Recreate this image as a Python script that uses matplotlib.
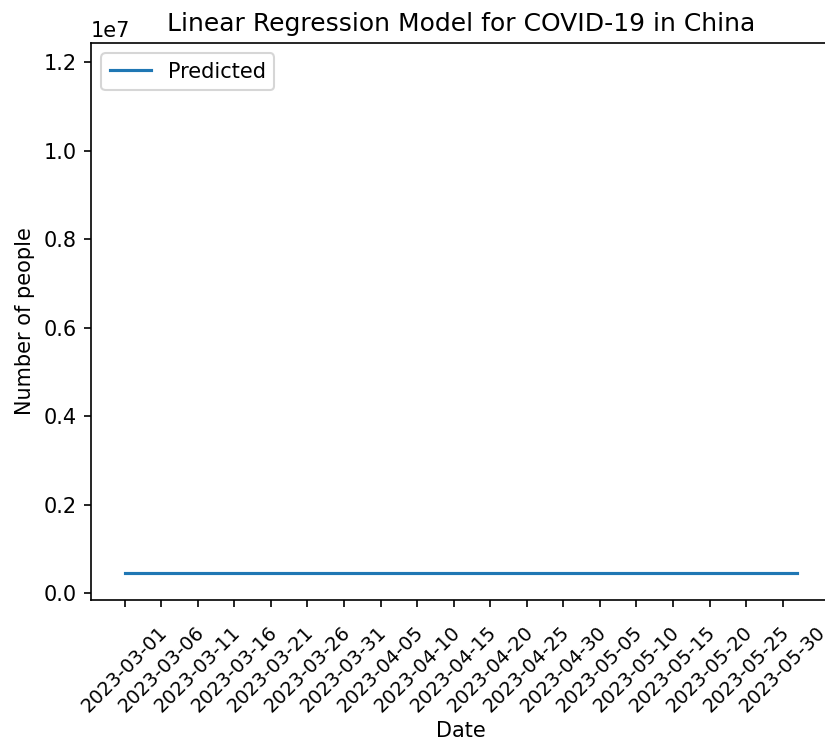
import pandas as pd
import matplotlib
matplotlib.use('Agg')
import matplotlib.pyplot as plt

# Datos
dates = pd.date_range('2023-03-01', '2023-06-01', freq='D')
predicted = [463000] * len(dates)
tick_dates = dates[::5]
tick_labels = [d.strftime('%Y-%m-%d') for d in tick_dates]

# Grafico
fig = plt.figure(figsize=(5.5, 740 / 150), dpi=150)
ax = fig.add_axes([91 / 825, 140 / 740, 740 / 825, 557 / 740])
ax.plot(dates, predicted, label='Predicted')
ax.set_ylim(-0.147e6, 12.43e6)
ax.set_xticks(tick_dates)
ax.set_xticklabels(tick_labels, rotation=45, fontsize=9.3)
ax.tick_params(axis='x', pad=7.5)
ax.set_xlabel('Date', labelpad=2.4)
ax.set_ylabel('Number of people')
ax.set_title('Linear Regression Model for COVID-19 in China')
ax.legend(loc='upper left')
fig.savefig('out.png', dpi=150)
